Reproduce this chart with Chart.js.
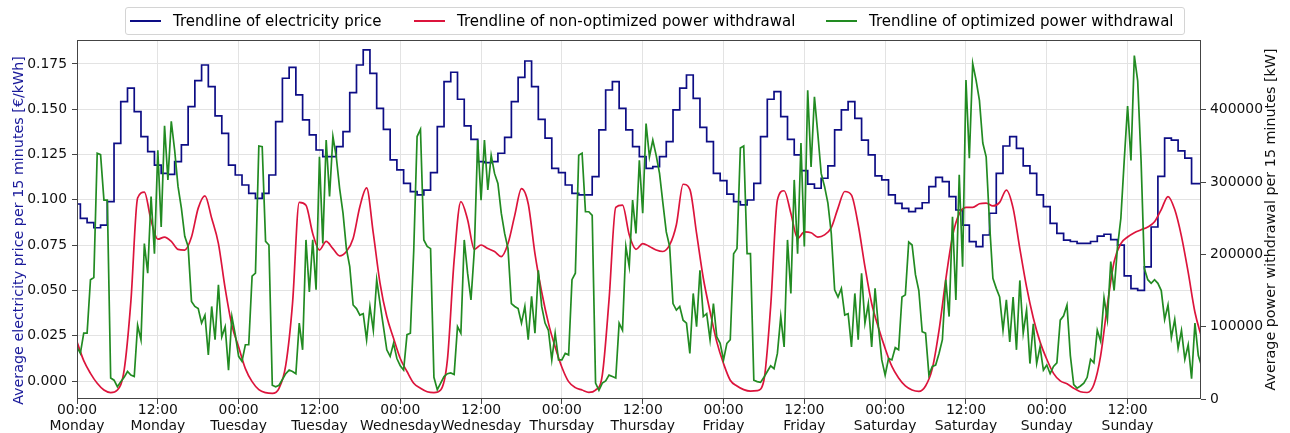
<!DOCTYPE html>
<html>
<head>
<meta charset="utf-8">
<script src="https://cdn.jsdelivr.net/npm/chart.js@4.4.1/dist/chart.umd.min.js"></script>
<style>
html,body{margin:0;padding:0;background:#fff;}
#wrap{position:relative;width:1290px;height:433px;}
#c{position:absolute;left:0;top:0;}
#legend{position:absolute;left:125px;top:7px;width:1060px;height:28px;border:1px solid #d4d4d4;border-radius:3px;box-sizing:border-box;background:rgba(255,255,255,0.85);font-family:'DejaVu Sans',sans-serif;font-size:15px;color:#000;z-index:2;}
.item{position:absolute;top:0;height:26px;display:flex;align-items:center;white-space:nowrap;}
.swatch{width:31px;height:2px;margin-right:12px;}
</style>
</head>
<body>
<div id="wrap">
<canvas id="c" width="1290" height="433"></canvas>
<div id="legend"></div>
</div>
<script>
// ---- tick labels (every 12 h) ----
const tickHours = [0,12,24,36,48,60,72,84,96,108,120,132,144,156];
const tickTimes = ['00:00','12:00','00:00','12:00','00:00','12:00','00:00','12:00','00:00','12:00','00:00','12:00','00:00','12:00'];
const tickDays  = ['Monday','Monday','Tuesday','Tuesday','Wednesday','Wednesday','Thursday','Thursday','Friday','Friday','Saturday','Saturday','Sunday','Sunday'];

const legendLabels = ['Trendline of electricity price','Trendline of non-optimized power withdrawal','Trendline of optimized power withdrawal'];
const leftTitle = 'Average electricity price per 15 minutes [€/kWh]';
const rightTitle = 'Average power withdrawal per 15 minutes [kW]';

// ---- electricity price, hourly (h0 .. h167) [€/kWh] ----
const price = [
0.0977,0.0898,0.0874,0.0846,0.0861,0.0990,0.1312,0.1542,0.1616,0.1487,
0.1349,0.1266,0.1192,0.1146,0.1141,0.1211,0.1303,0.1514,0.1658,0.1744,
0.1625,0.1463,0.1367,0.1192,0.1137,0.1082,0.1036,0.1008,0.1036,0.1137,
0.1432,0.1671,0.1731,0.1579,0.1441,0.1358,0.1275,0.1238,0.1238,0.1294,
0.1376,0.1592,0.1744,0.1827,0.1698,0.1505,0.1389,0.1220,0.1165,0.1091,
0.1045,0.1027,0.1054,0.1150,0.1404,0.1652,0.1704,0.1555,0.1408,0.1334,
0.1211,0.1205,0.1211,0.1257,0.1345,0.1542,0.1676,0.1766,0.1625,0.1444,
0.1340,0.1174,0.1150,0.1082,0.1036,0.1027,0.1027,0.1128,0.1386,0.1606,
0.1652,0.1505,0.1386,0.1294,0.1238,0.1174,0.1183,0.1238,0.1321,0.1496,
0.1616,0.1689,0.1560,0.1400,0.1321,0.1146,0.1106,0.1032,0.0990,0.0972,
0.0999,0.1091,0.1349,0.1555,0.1597,0.1459,0.1334,0.1248,0.1161,0.1087,
0.1064,0.1119,0.1187,0.1386,0.1496,0.1542,0.1450,0.1330,0.1248,0.1132,
0.1110,0.1027,0.0981,0.0953,0.0935,0.0953,0.0984,0.1073,0.1124,0.1100,
0.1018,0.0944,0.0861,0.0769,0.0742,0.0806,0.0926,0.1146,0.1297,0.1349,
0.1284,0.1187,0.1146,0.1027,0.0962,0.0870,0.0815,0.0778,0.0770,0.0760,
0.0760,0.0770,0.0800,0.0810,0.0780,0.0750,0.0580,0.0510,0.0500,0.0630,
0.0850,0.1130,0.1340,0.1330,0.1270,0.1230,0.1090,0.1090
];

// ---- non-optimized power withdrawal, hourly (h0 .. h167) [thousand kW] ----
const nonOptimizedK = [
79,53,35.5,21.7,12.4,8.8,12.4,40,135,278,
286,247,221,224,218,207,206,224,264,281,
250,215,153,102,72,42,24,13,8.8,7.8,
14.8,47,132,272,268,229,206,218,208,198,
204,222,266,292,229,160,114,84,56,38,
21.7,14.8,10,8.8,12.4,54,192,273,248,207,
213,208,204,197,215,254,291,270,201,148,
105,72,44,24,15.7,12.4,9.2,12.4,33,137,
265,268,227,207,215,211,206,204,213,241,
297,290,229,167,121,79,49,26,18,13,
11,11.5,26,128,275,288,257,222,231,230,
224,227,237,264,287,282,241,183,132,99,
70,45,29,18,12.4,10.6,18,42,95,165,
225,256,265,265,270,271,267,272,289,264,
208,155,112,79,55,35.5,25,21,15,10,
9,20,60,130,190,215,224,230,234,238,
245,262,280,262,225,175,120,85
];

// ---- optimized power withdrawal, half-hourly (h0, h0.5 .. h167) [thousand kW] ----
const optimizedK = [
72,63,91,91,165,168,340,338,275,275,29,26,17,24,30,38,33,31,102,82,215,174,280,201,344,238,378,303,384,344,294,264,225,211,135,128,125,105,116,61,128,
82,158,86,100,40,114,89,59,52,75,75,170,174,350,349,218,213,19,17,19,27,35,40,38,35,105,68,220,148,220,151,335,215,358,280,363,335,291,257,208,183,130,
125,116,118,82,128,95,165,132,100,68,59,77,56,46,40,89,91,205,363,373,220,211,208,30,13,22,31,35,36,34,100,91,220,174,137,206,358,275,358,289,337,312,
298,257,229,208,132,128,125,105,128,82,142,91,178,128,105,95,54,91,54,54,63,61,165,174,337,340,259,259,254,22,12,22,25,33,31,29,105,95,211,183,275,229,
330,257,381,335,358,337,312,271,231,211,132,123,128,109,105,63,146,100,178,114,118,82,132,86,77,54,77,82,201,208,347,350,201,201,26,24,23,30,38,46,42,63,
114,72,220,146,303,201,354,211,427,321,418,367,312,294,271,229,151,141,153,116,118,72,146,82,174,105,132,72,153,100,54,33,56,54,71,68,141,144,217,213,172,150,
93,91,33,45,47,63,82,165,114,252,137,310,183,441,333,464,441,413,354,335,243,167,153,141,95,137,79,141,68,164,91,123,49,104,49,72,40,47,35,45,50,109,
115,130,60,20,15,18,22,30,55,50,95,80,140,110,190,150,210,250,330,405,330,475,440,330,180,165,160,165,160,150,110,130,85,110,70,95,55,75,28,105,60,45
];

const BLUE = '#0d0d85', RED = '#dc143c', GREEN = '#228b22';
const GRID = '#e3e3e3', AXIS = '#444';

const pricePts = price.map((v, i) => ({x: i, y: v}));
const redPts = nonOptimizedK.map((v, i) => ({x: i, y: v * 1000}));
const greenPts = optimizedK.map((v, i) => ({x: i * 0.5, y: v * 1000}));

// HTML legend
const legendEl = document.getElementById('legend');
const legendColors = [BLUE, RED, GREEN];
const legendLeft = [4, 288, 700];
legendLabels.forEach((t, i) => {
  const d = document.createElement('div');
  d.className = 'item';
  d.style.left = legendLeft[i] + 'px';
  d.innerHTML = '<span class="swatch" style="background:' + legendColors[i] + '"></span><span>' + t + '</span>';
  legendEl.appendChild(d);
});

Chart.defaults.font.family = "'DejaVu Sans', sans-serif";
Chart.defaults.font.size = 13.9;
Chart.defaults.color = '#111';

const framePlugin = {
  id: 'frame',
  afterDatasetsDraw(chart) {
    const {ctx, chartArea: a} = chart;
    ctx.save();
    ctx.strokeStyle = AXIS;
    ctx.lineWidth = 1;
    ctx.strokeRect(Math.round(a.left) + 0.5, Math.round(a.top) + 0.5,
                   Math.round(a.right - a.left) - 1, Math.round(a.bottom - a.top) - 1);
    ctx.restore();
  },
  afterDraw(chart) {
    const {ctx, chartArea: a} = chart;
    const cy = (a.top + a.bottom) / 2;
    ctx.save();
    ctx.font = "14.3px 'DejaVu Sans', sans-serif";
    ctx.textAlign = 'center';
    ctx.textBaseline = 'middle';
    // left axis title (reads bottom-to-top)
    ctx.save();
    ctx.translate(19, cy + 11);
    ctx.rotate(-Math.PI / 2);
    ctx.fillStyle = '#1a1a9a';
    ctx.fillText(leftTitle, 0, 0);
    ctx.restore();
    // right axis title (also reads bottom-to-top)
    ctx.save();
    ctx.translate(1271, cy);
    ctx.rotate(-Math.PI / 2);
    ctx.fillStyle = '#111';
    ctx.fillText(rightTitle, 0, 0);
    ctx.restore();
    ctx.restore();
  }
};

new Chart(document.getElementById('c'), {
  type: 'line',
  data: {
    datasets: [
      {label: legendLabels[2], data: greenPts, yAxisID: 'yR', borderColor: GREEN, borderWidth: 1.7,
       pointRadius: 0, tension: 0, order: 1},
      {label: legendLabels[1], data: redPts, yAxisID: 'yR', borderColor: RED, borderWidth: 1.7,
       pointRadius: 0, cubicInterpolationMode: 'monotone', order: 2},
      {label: legendLabels[0], data: pricePts, yAxisID: 'yL', borderColor: BLUE, borderWidth: 1.7,
       pointRadius: 0, stepped: 'middle', order: 3}
    ]
  },
  options: {
    responsive: false,
    animation: false,
    devicePixelRatio: 1,
    layout: {padding: {top: 40, left: 0, right: 0, bottom: 0}},
    plugins: {legend: {display: false}, tooltip: {enabled: false}},
    scales: {
      x: {
        type: 'linear', min: 0, max: 166.9,
        afterBuildTicks: s => { s.ticks = tickHours.map(v => ({value: v})); },
        afterFit: s => { s.height = 34; },
        grid: {color: GRID, tickColor: AXIS, tickLength: 5, drawTicks: true},
        border: {display: false},
        ticks: {
          autoSkip: false, maxRotation: 0, padding: -1,
          font: {size: 13.9, lineHeight: 1.12},
          callback: (v) => { const i = Math.round(v / 12); return [tickTimes[i], tickDays[i]]; }
        }
      },
      yL: {
        position: 'left', min: -0.0099, max: 0.1882,
        afterBuildTicks: s => { s.ticks = [0, 0.025, 0.05, 0.075, 0.1, 0.125, 0.15, 0.175].map(v => ({value: v})); },
        afterFit: s => { s.width = 77; },
        grid: {color: GRID, tickColor: AXIS, tickLength: 5},
        border: {display: false},
        ticks: {padding: 5, callback: v => v.toFixed(3)}
      },
      yR: {
        position: 'right', min: 0, max: 496500,
        afterBuildTicks: s => { s.ticks = [0, 100000, 200000, 300000, 400000].map(v => ({value: v})); },
        afterFit: s => { s.width = 89; },
        grid: {drawOnChartArea: false, color: GRID, tickColor: AXIS, tickLength: 5},
        border: {display: false},
        ticks: {padding: 4, callback: v => String(v)}
      }
    }
  },
  plugins: [framePlugin]
});
</script>
</body>
</html>
